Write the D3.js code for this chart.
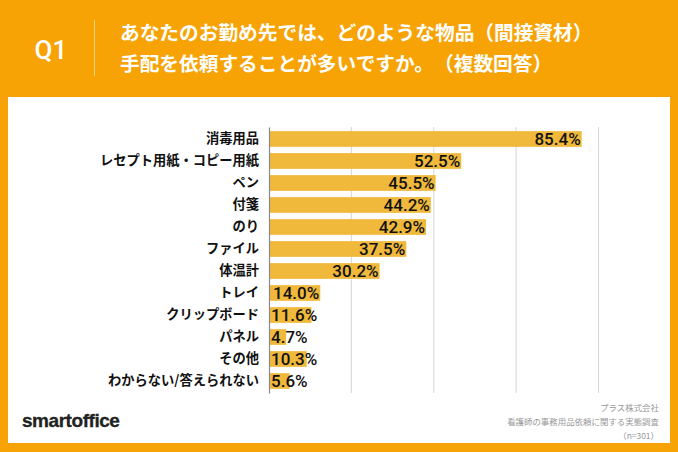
<!DOCTYPE html>
<html>
<head>
<meta charset="utf-8">
<script src="https://cdnjs.cloudflare.com/ajax/libs/d3/7.8.5/d3.min.js"></script>
<style>
  html, body { margin: 0; padding: 0; background: #f7a305; }
  svg { display: block; }
  text { font-family: "Noto Sans CJK JP", sans-serif; text-spacing-trim: space-all; font-feature-settings: "palt" 0; }
</style>
</head>
<body>
<div id="chart"></div>
<script>
const categories = ["消毒用品", "レセプト用紙・コピー用紙", "ペン", "付箋", "のり", "ファイル", "体温計", "トレイ", "クリップボード", "パネル", "その他", "わからない/答えられない"];
const percents = [85.4, 52.5, 45.5, 44.2, 42.9, 37.5, 30.2, 14.0, 11.6, 4.7, 10.3, 5.6];
const gridTicks = [22.5, 45, 67.5, 90];
const titleLines = ["あなたのお勤め先では、どのような物品（間接資材）", "手配を依頼することが多いですか。（複数回答）"];
const sourceLines = ["プラス株式会社", "看護師の事務用品依頼に関する実態調査", "（n=301）"];

const width = 678, height = 452;
const svg = d3.select("#chart").append("svg").attr("width", width).attr("height", height);

svg.append("rect").attr("width", width).attr("height", height).attr("fill", "#f7a305");
svg.append("rect").attr("x", 8).attr("y", 97).attr("width", 662).attr("height", 346).attr("fill", "#fff");

// header
svg.append("text").attr("x", 34.5).attr("y", 59).text("Q1")
  .style("font-family", "Roboto").style("font-weight", 500).style("font-size", "26px").attr("fill", "#fff");
svg.append("line").attr("x1", 94.5).attr("x2", 94.5).attr("y1", 20).attr("y2", 76)
  .attr("stroke", "#fff").attr("stroke-opacity", 0.5);
svg.selectAll(".title").data(titleLines).join("text").attr("class", "title")
  .attr("x", 120).attr("y", (d, i) => 40 + i * 30.5).text(d => d)
  .attr("fill", "#fff").style("font-size", "19.7px").style("font-weight", 700);

const x = d3.scaleLinear().domain([0, 90]).range([269, 598.5]);
const y = d3.scaleBand().domain(categories).range([127, 393]).paddingInner(0.285).paddingOuter(0.1875);

svg.selectAll(".grid").data(gridTicks).join("line").attr("class", "grid")
  .attr("x1", d => x(d)).attr("x2", d => x(d)).attr("y1", 127).attr("y2", 393)
  .attr("stroke", "#dcdcdc").attr("stroke-width", 1.2);

svg.selectAll(".bar").data(percents).join("rect").attr("class", "bar")
  .attr("x", x(0)).attr("y", (d, i) => y(categories[i]))
  .attr("width", d => x(d) - x(0)).attr("height", y.bandwidth())
  .attr("fill", "#f0b93b");

const yAxis = svg.append("g").attr("transform", `translate(${x(0)},0)`)
  .call(d3.axisLeft(y).tickSize(0).tickPadding(10));
yAxis.select(".domain").attr("stroke", "#8a8a8a").attr("stroke-width", 1.2);
yAxis.selectAll("text").attr("fill", "#111")
  .style("font-family", '"Noto Sans CJK JP"').style("font-size", "13.25px").style("font-weight", 700);

// value labels: inside the bar end when they fit, otherwise from the axis
const labels = svg.selectAll(".value").data(percents).join("text").attr("class", "value")
  .attr("y", (d, i) => y(categories[i]) + y.bandwidth() / 2).attr("dy", "0.36em")
  .text(d => d.toFixed(1) + "%").attr("fill", "#111")
  .style("font-family", "Roboto").style("font-weight", 500).style("font-size", "17px");
labels.each(function(d) {
  const w = this.getComputedTextLength();
  d3.select(this).attr("x", Math.max(x(d) - w - 1, x(0) + 2));
});

// logo and source
svg.append("text").attr("x", 22).attr("y", 427).text("smartoffice")
  .style("font-family", '"Liberation Sans"').style("font-weight", 700).style("font-size", "19px")
  .style("letter-spacing", "-0.45px").attr("fill", "#222").attr("stroke", "#222").attr("stroke-width", 0.3);
svg.selectAll(".source").data(sourceLines).join("text").attr("class", "source")
  .attr("x", 659).attr("y", (d, i) => 410.5 + i * 14).attr("text-anchor", "end").text(d => d)
  .attr("fill", "#999").style("font-size", "8.45px");
</script>
</body>
</html>
